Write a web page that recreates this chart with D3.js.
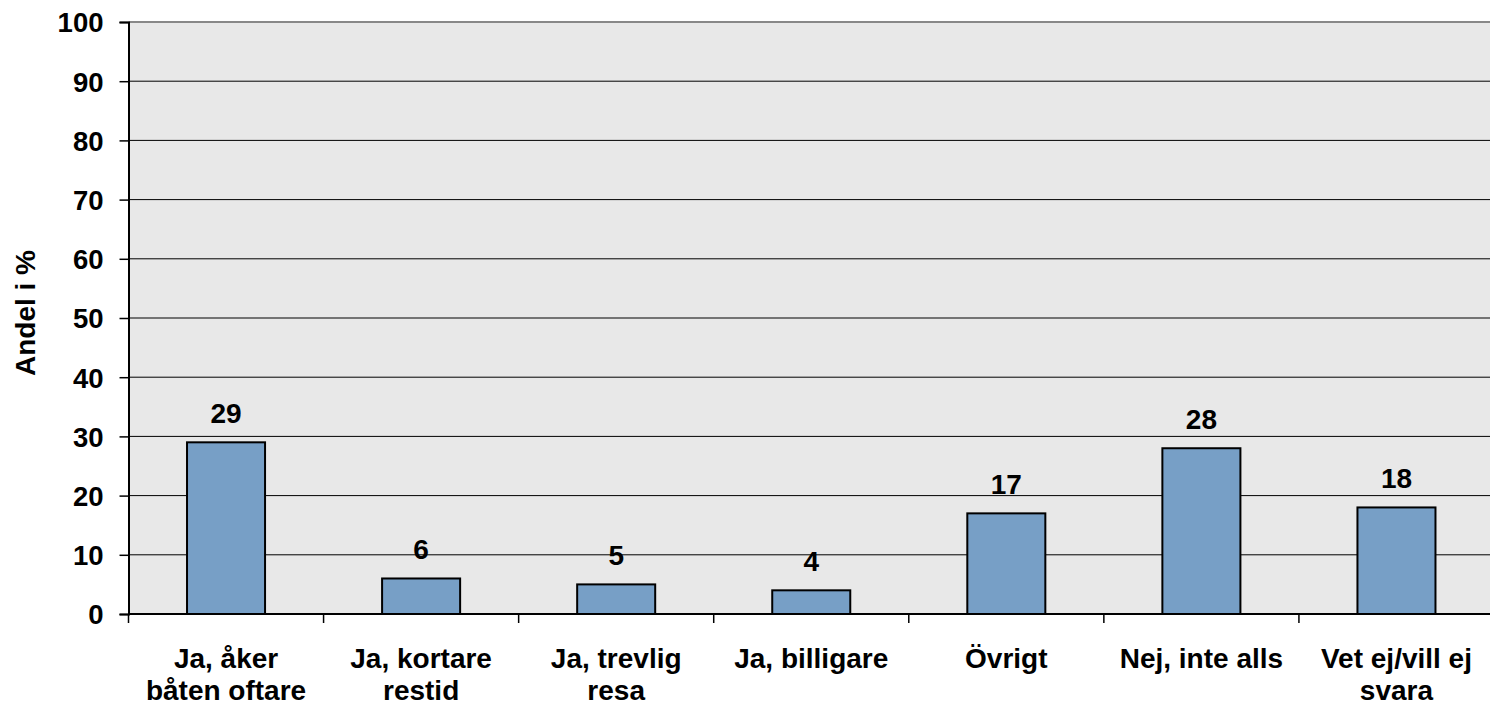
<!DOCTYPE html>
<html>
<head>
<meta charset="utf-8">
<script src="https://cdn.jsdelivr.net/npm/d3@7"></script>
<style>
  body { margin: 0; background: #fff; }
  text { font-family: "Liberation Sans", Arial, sans-serif; font-weight: bold; fill: #000; }
</style>
</head>
<body>
<script>
// categories (two-line labels) and values in percent
var categories = [
    ["Ja, åker", "båten oftare"],
    ["Ja, kortare", "restid"],
    ["Ja, trevlig", "resa"],
    ["Ja, billigare"],
    ["Övrigt"],
    ["Nej, inte alls"],
    ["Vet ej/vill ej", "svara"]
];
var values = [29, 6, 5, 4, 17, 28, 18];
var y_ticks = [0, 10, 20, 30, 40, 50, 60, 70, 80, 90, 100];
var y_title = "Andel i %";

var W = 1490, H = 710;
var margin = {top: 22, right: -4, bottom: 96, left: 128.5};
var width = W - margin.left - margin.right;
var height = H - margin.top - margin.bottom;

var svg = d3.select("body").append("svg")
    .attr("width", W)
    .attr("height", H);

var g = svg.append("g")
    .attr("transform", "translate(" + margin.left + "," + margin.top + ")");

var x = d3.scaleBand()
    .domain(d3.range(categories.length))
    .range([0, width])
    .paddingInner(0.6)
    .paddingOuter(0.3);

var y = d3.scaleLinear()
    .domain([0, 100])
    .range([height, 0]);

// plot background
g.append("rect")
    .attr("x", 0).attr("y", 0)
    .attr("width", width).attr("height", height)
    .attr("fill", "#e8e8e8");

// gridlines
g.selectAll(".grid").data(y_ticks.filter(function(d) { return d > 0 && d < 100; }))
    .enter().append("line")
    .attr("x1", 0).attr("x2", width)
    .attr("y1", function(d) { return y(d); })
    .attr("y2", function(d) { return y(d); })
    .attr("stroke", "#000")
    .attr("stroke-width", 1);

// top border
g.append("line")
    .attr("x1", 0).attr("x2", width)
    .attr("y1", 0).attr("y2", 0)
    .attr("stroke", "#888")
    .attr("stroke-width", 2);

// bars
g.selectAll(".bar").data(values).enter().append("rect")
    .attr("x", function(d, i) { return x(i); })
    .attr("y", function(d) { return y(d); })
    .attr("width", x.bandwidth())
    .attr("height", function(d) { return height - y(d); })
    .attr("fill", "#779fc6")
    .attr("stroke", "#000")
    .attr("stroke-width", 2);

// value labels
g.selectAll(".val").data(values).enter().append("text")
    .attr("x", function(d, i) { return x(i) + x.bandwidth() / 2; })
    .attr("y", function(d) { return y(d) - 19; })
    .attr("text-anchor", "middle")
    .style("font-size", "28px")
    .text(function(d) { return d; });

// y axis
var yAxis = g.append("g")
    .call(d3.axisLeft(y).tickValues(y_ticks).tickSize(9).tickPadding(16));
yAxis.select(".domain").attr("stroke", "#000").attr("stroke-width", 2);
yAxis.selectAll(".tick line").attr("stroke", "#000").attr("stroke-width", 1.5);
yAxis.selectAll(".tick text")
    .style("font-size", "27.5px")
    .style("font-family", "'Liberation Sans', Arial, sans-serif")
    .style("font-weight", "bold")
    .attr("dy", "0.36em");

// x axis: baseline and ticks between categories
var bounds = d3.range(categories.length + 1).map(function(i) { return i * width / categories.length; });
g.append("line")
    .attr("x1", 0).attr("x2", width)
    .attr("y1", height).attr("y2", height)
    .attr("stroke", "#000").attr("stroke-width", 2);
g.selectAll(".xtick").data(bounds).enter().append("line")
    .attr("x1", function(d) { return d; }).attr("x2", function(d) { return d; })
    .attr("y1", height).attr("y2", height + 9)
    .attr("stroke", "#000").attr("stroke-width", 1.5);

// category labels
var labels = g.selectAll(".cat").data(categories).enter().append("text")
    .attr("text-anchor", "middle")
    .attr("transform", function(d, i) {
        return "translate(" + (x(i) + x.bandwidth() / 2) + "," + (height + 54) + ")";
    })
    .style("font-size", "28px");
labels.selectAll("tspan").data(function(d) { return d; }).enter().append("tspan")
    .attr("x", 0)
    .attr("y", function(d, i) { return i * 32; })
    .text(function(d) { return d; });

// y title
svg.append("text")
    .attr("transform", "translate(35,313) rotate(-90)")
    .attr("text-anchor", "middle")
    .style("font-size", "28px")
    .text(y_title);
</script>
</body>
</html>
